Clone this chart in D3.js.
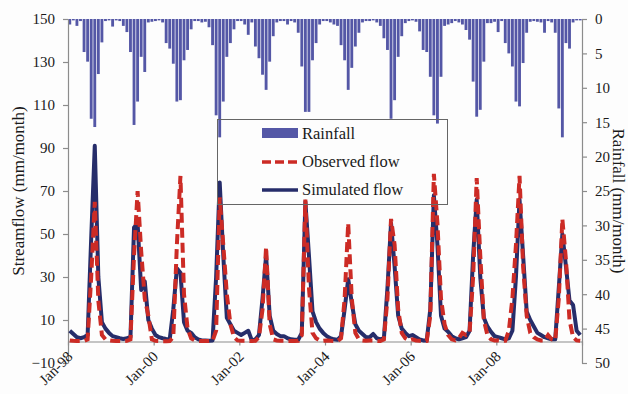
<!DOCTYPE html>
<html>
<head>
<meta charset="utf-8">
<script src="https://cdn.jsdelivr.net/npm/d3@7"></script>
<style>
  body { margin: 0; background: #ffffff; }
  svg { display: block; font-family: "Liberation Serif", "Times New Roman", serif; }
</style>
</head>
<body>
<div id="chart"></div>
<script>
// Canvas and plot area
const w = 628;
const h = 394;
const xLeft = 68;
const xRight = 582;
const yTop = 19;
const yBottom = 363;

// Colour palette
const rainColor = "#5457a6";
const obsColor = "#cc2b25";
const simColor = "#262d6a";
const axisColor = "#8c8c8c";
const textColor = "#1a1a1a";

// Monthly series, Jan-98 .. Dec-09 (one row per year)
const rainfall = [
  0.8, 0.2, 1.0, 0.3, 4.8, 6.2, 14.5, 15.7, 8.0, 3.4, 0.3, 0.2,
  1.1, 0.2, 0.3, 1.0, 1.9, 4.8, 15.4, 12.0, 5.5, 7.7, 0.5, 0.4,
  0.3, 0.2, 0.5, 3.5, 4.3, 6.5, 12.0, 11.8, 6.0, 4.5, 1.5, 0.3,
  0.3, 0.5, 0.4, 1.2, 3.8, 14.0, 17.2, 12.0, 5.5, 3.5, 1.5, 0.3,
  0.3, 0.8, 2.3, 0.5, 4.0, 5.7, 8.1, 10.3, 6.2, 2.5, 0.5, 0.3,
  0.3, 0.8, 0.3, 0.5, 2.0, 6.9, 13.5, 13.5, 6.0, 3.5, 0.8, 0.3,
  0.3, 0.5, 0.8, 1.0, 3.8, 6.0, 10.3, 7.1, 4.0, 2.0, 0.5, 0.3,
  0.3, 0.2, 0.5, 1.0, 2.8, 4.5, 14.5, 11.8, 5.5, 2.5, 0.6, 0.3,
  0.2, 0.4, 1.8, 4.5, 4.8, 8.4, 14.0, 15.2, 8.4, 1.0, 0.8, 0.6,
  0.3, 0.5, 0.8, 1.6, 3.0, 9.1, 14.2, 13.2, 6.2, 0.6, 0.6, 0.4,
  1.9, 0.3, 3.5, 5.0, 6.9, 12.0, 12.7, 6.4, 2.0, 0.4, 0.3, 0.4,
  0.5, 2.0, 0.3, 0.5, 2.0, 13.0, 17.2, 3.5, 4.3, 0.5, 0.2, 0.2
];

const observed = [
  0.5, 0.3, 0.2, 0.2, 0.3, 1, 30, 65, 19, 3, 1, 0.5,
  0.3, 0.2, 0.2, 0.2, 0.3, 1, 40, 70, 42, 20, 12, 1,
  0.3, 0.2, 0.1, 0.1, 0.2, 2, 45, 77, 22, 6, 1.5, 0.5,
  0.3, 0.2, 0.2, 0.2, 0.3, 5, 67, 45, 22, 8, 2, 0.5,
  0.3, 0.3, 0.3, 0.2, 0.3, 2, 15, 44, 8, 1, 0.5, 0.3,
  0.3, 0.2, 0.2, 0.2, 0.3, 3, 66, 25, 4, 1.5, 0.5, 0.3,
  0.5, 0.3, 0.2, 0.2, 1.5, 20, 55, 20, 4, 1, 0.5, 0.3,
  0.5, 0.5, 0.3, 0.2, 1, 20, 57, 45, 15, 4, 1.5, 0.5,
  1, 0.5, 0.3, 0.2, 0.3, 12, 78, 55, 20, 8, 3, 1,
  0.5, 1.5, 4, 3, 4, 30, 76, 40, 10, 3, 1, 0.5,
  0.5, 0.3, 0.3, 5, 20, 45, 77, 35, 12, 4, 2, 1,
  0.5, 0.5, 3, 1, 0.5, 20, 57, 38, 10, 2, 0.5, 0.3
];

const simulated = [
  5, 3.5, 2, 1.5, 2, 3, 48, 91, 30, 9, 6, 4,
  2.5, 2, 1.5, 1.2, 1.5, 2, 53, 55, 24, 28, 10, 6,
  3, 2, 1.5, 1.2, 1, 15, 34, 32, 9, 5, 4, 2,
  1, 0.5, 0.5, 0.3, 0.5, 30, 74, 40, 11, 8, 5, 4,
  3, 4, 5, 0.5, 1, 3, 20, 40, 12, 5, 3.5, 2.5,
  2.5, 1.5, 1, 0.8, 0.8, 4, 65, 40, 14, 9, 6, 4,
  2.5, 1.5, 1, 0.8, 2.5, 15, 29, 18, 8, 5, 3.5, 2,
  2, 3.5, 1.5, 1, 1.5, 25, 55, 35, 12, 6, 4, 2.5,
  3, 2, 1, 0.5, 0.5, 15, 68, 45, 12, 6, 4.5, 2.5,
  1.5, 1, 1.5, 2, 5, 40, 66, 30, 11, 7, 4.5, 2.5,
  2, 1.5, 1, 1.5, 5, 30, 66, 40, 14, 10, 7, 4,
  3, 2, 1.5, 1, 1, 25, 50, 35, 19, 17, 5, 3
];

// Axis ticks and labels
const xTickMonths = [0, 24, 48, 72, 96, 120, 144];
const xTickLabels = ["Jan-98", "Jan-00", "Jan-02", "Jan-04", "Jan-06", "Jan-08"];
const flowTicks = [-10, 10, 30, 50, 70, 90, 110, 130, 150];
const rainTicks = [0, 5, 10, 15, 20, 25, 30, 35, 40, 45, 50];
const legendLabels = ["Rainfall", "Observed flow", "Simulated flow"];

// Scales
const xScale = d3.scaleLinear()
                 .domain([0, rainfall.length])
                 .range([xLeft, xRight]);

const yFlow = d3.scaleLinear()
                .domain([-10, 150])
                .range([yBottom, yTop]);

const yRain = d3.scaleLinear()
                .domain([0, 50])
                .range([yTop, yBottom]);

// SVG
const svg = d3.select("#chart")
              .append("svg")
              .attr("width", w)
              .attr("height", h);

svg.append("rect")
   .attr("width", w)
   .attr("height", h)
   .attr("fill", "#fdfdfd");

// Rainfall bars hanging from the top
svg.append("g")
   .selectAll("rect")
   .data(rainfall)
   .enter()
   .append("rect")
   .attr("x", (d, i) => xScale(i + 0.1))
   .attr("y", yRain(0))
   .attr("width", (d, i) => xScale(i + 0.9) - xScale(i + 0.1))
   .attr("height", d => yRain(d) - yRain(0))
   .attr("fill", rainColor);

// Axes
function styleAxis(g) {
  g.selectAll("path, line").attr("stroke", axisColor).attr("stroke-width", 1.2);
  g.selectAll("text")
   .attr("fill", textColor)
   .style("font-size", "15px")
   .style("font-family", "'Liberation Serif', serif");
}

svg.append("g")
   .attr("transform", "translate(" + xLeft + ",0)")
   .call(d3.axisLeft(yFlow).tickValues(flowTicks).tickSize(5).tickSizeOuter(0).tickPadding(8))
   .call(styleAxis);

svg.append("g")
   .attr("transform", "translate(" + xRight + ",0)")
   .call(d3.axisRight(yRain).tickValues(rainTicks).tickSize(5).tickSizeOuter(0).tickPadding(8))
   .call(styleAxis);

const xAxisG = svg.append("g")
   .attr("transform", "translate(0," + yFlow(0) + ")")
   .call(d3.axisBottom(xScale)
           .tickValues(xTickMonths)
           .tickSize(4)
           .tickSizeOuter(0)
           .tickFormat((d, i) => xTickLabels[i] || ""))
   .call(styleAxis);

xAxisG.selectAll("text")
      .attr("x", 0)
      .attr("y", 0)
      .attr("dy", 0)
      .attr("text-anchor", "end")
      .attr("transform", "translate(5,16) rotate(-45)");

// Flow lines
const line = d3.line()
               .x((d, i) => xScale(i + 0.5))
               .y(d => yFlow(d));

svg.append("path")
   .datum(simulated)
   .attr("d", line)
   .attr("fill", "none")
   .attr("stroke", simColor)
   .attr("stroke-width", 4)
   .attr("stroke-linejoin", "round");

svg.append("path")
   .datum(observed)
   .attr("d", line)
   .attr("fill", "none")
   .attr("stroke", obsColor)
   .attr("stroke-width", 4)
   .attr("stroke-dasharray", "10,5");

// Axis titles
svg.append("text")
   .attr("transform", "translate(24," + (yTop + yBottom) / 2 + ") rotate(-90)")
   .attr("text-anchor", "middle")
   .attr("fill", textColor)
   .style("font-size", "17px")
   .text("Streamflow (mm/month)");

svg.append("text")
   .attr("transform", "translate(613,201) rotate(90)")
   .attr("text-anchor", "middle")
   .attr("fill", textColor)
   .style("font-size", "17px")
   .text("Rainfall (mm/month)");

// Legend
const legend = svg.append("g");

legend.append("rect")
      .attr("x", 217.5)
      .attr("y", 119.5)
      .attr("width", 230)
      .attr("height", 85)
      .attr("fill", "none")
      .attr("stroke", "#666")
      .attr("stroke-width", 1);

legend.append("rect")
      .attr("x", 262)
      .attr("y", 128)
      .attr("width", 36)
      .attr("height", 10)
      .attr("fill", rainColor);

legend.append("line")
      .attr("x1", 262).attr("x2", 298)
      .attr("y1", 162).attr("y2", 162)
      .attr("stroke", obsColor)
      .attr("stroke-width", 3.5)
      .attr("stroke-dasharray", "9,4");

legend.append("line")
      .attr("x1", 262).attr("x2", 298)
      .attr("y1", 190).attr("y2", 190)
      .attr("stroke", simColor)
      .attr("stroke-width", 3.5);

legend.selectAll("text.item")
      .data(legendLabels)
      .enter()
      .append("text")
      .attr("class", "item")
      .attr("x", 302)
      .attr("y", (d, i) => 139 + i * 28)
      .attr("fill", textColor)
      .style("font-size", "16.5px")
      .text(d => d);
</script>
</body>
</html>
